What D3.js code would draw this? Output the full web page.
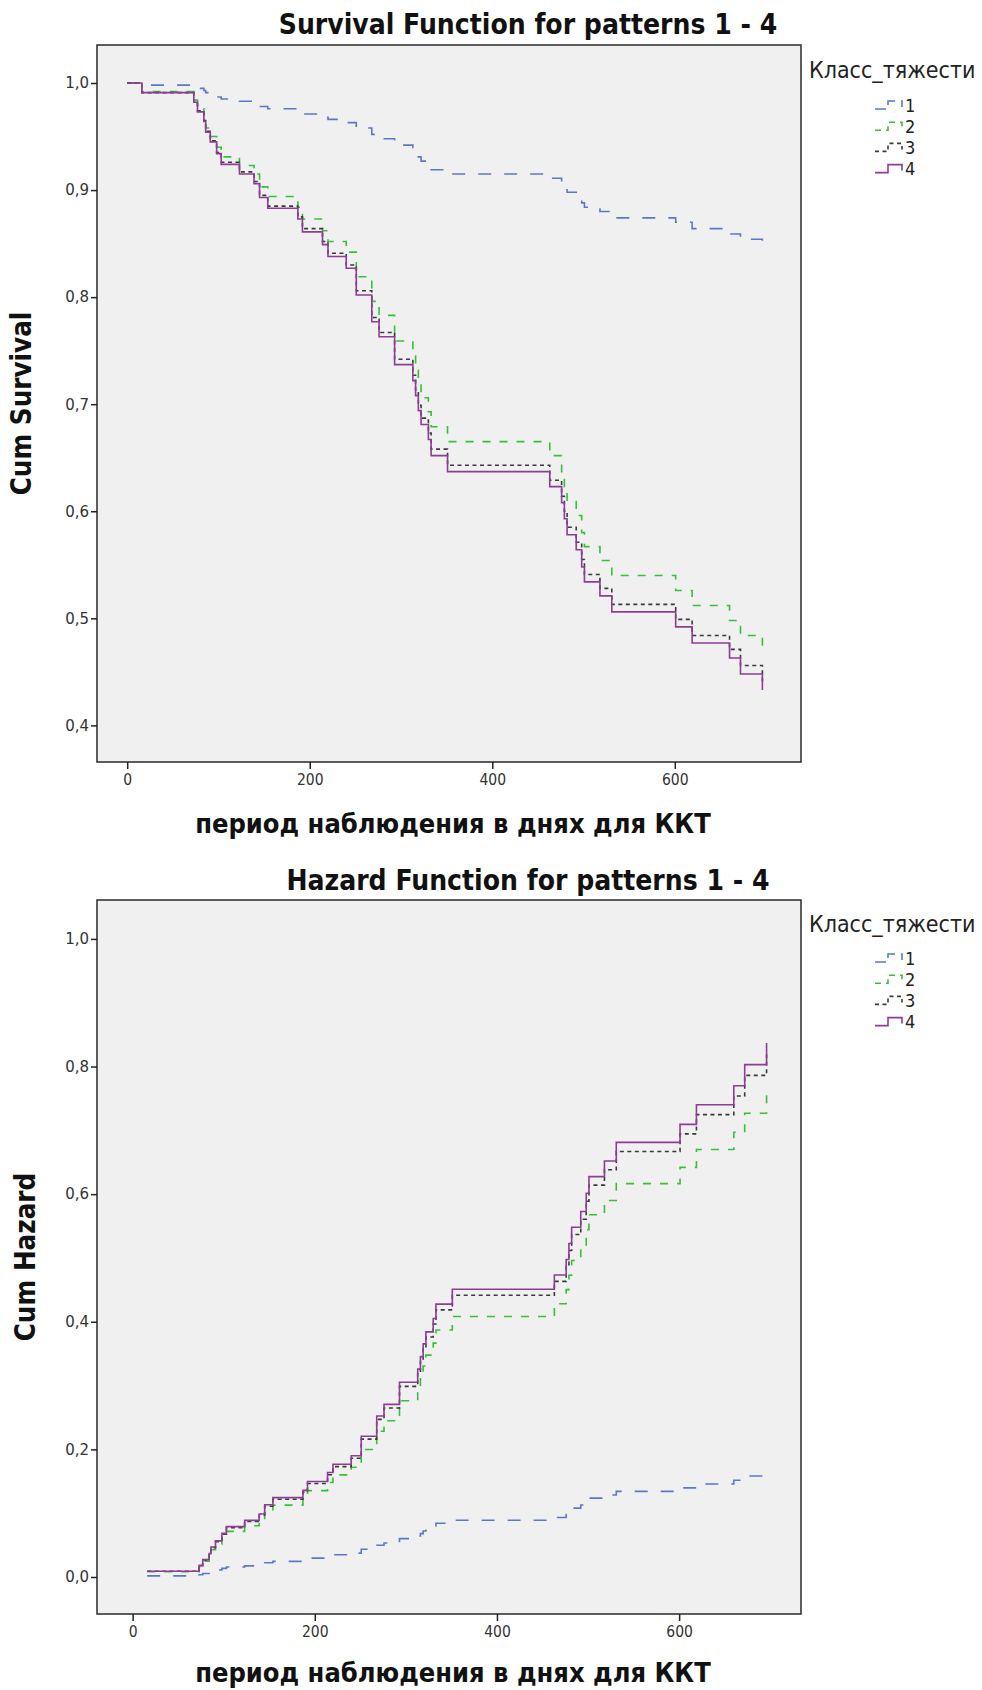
<!DOCTYPE html>
<html>
<head>
<meta charset="utf-8">
<title>Survival / Hazard</title>
<script src="https://cdn.jsdelivr.net/npm/d3@7/dist/d3.min.js"></script>
<style>
	body { margin: 0; background: #fff; }
	.chart-title { font-family: "DejaVu Sans Condensed", "DejaVu Sans", sans-serif; font-weight: bold; font-size: 28px; fill: #111; }
	.axis-title { font-family: "DejaVu Sans Condensed", "DejaVu Sans", sans-serif; font-weight: bold; font-size: 27px; fill: #111; }
	.y-title { font-size: 27.5px; }
	.y-axis text { font-family: "DejaVu Sans", sans-serif; font-size: 15px; fill: #333; }
	.x-axis text { font-family: "DejaVu Sans Condensed", "DejaVu Sans", sans-serif; font-size: 15.5px; fill: #333; }
	.axis path { display: none; }
	.axis line { stroke: #222; stroke-width: 1.5; }
	.legend-title { font-family: "DejaVu Sans Condensed", "DejaVu Sans", sans-serif; font-size: 23px; fill: #222; }
	.legend-label { font-family: "DejaVu Sans Condensed", "DejaVu Sans", sans-serif; font-size: 18px; fill: #222; }
</style>
</head>
<body>
<div id="chart"></div>
<script>

// event times (days) shared by all four patterns
const eventDays = [16, 73, 77, 84, 86, 91, 98, 103, 123, 139, 145, 154, 187, 192, 214, 220, 240, 251, 268, 276,
	293, 313, 316, 319, 322, 330, 333, 351, 463, 476, 479, 482, 492, 498, 501, 518, 531, 601, 619, 660, 672, 696];

// survival curves start at day 0 with 1,0
const survDays = [0].concat(eventDays);
const survival1 = [1.000, 0.998, 0.996, 0.995, 0.993, 0.991, 0.989, 0.987, 0.985, 0.983, 0.981, 0.978, 0.976, 0.974,
	0.971, 0.968, 0.966, 0.963, 0.958, 0.952, 0.948, 0.942, 0.938, 0.934, 0.931, 0.927, 0.923, 0.919, 0.915, 0.911,
	0.907, 0.902, 0.898, 0.893, 0.888, 0.884, 0.880, 0.874, 0.870, 0.864, 0.859, 0.854, 0.848];
const survival2 = [1.000, 0.992, 0.984, 0.976, 0.967, 0.958, 0.950, 0.940, 0.931, 0.923, 0.915, 0.903, 0.894, 0.884,
	0.873, 0.862, 0.852, 0.842, 0.819, 0.796, 0.783, 0.759, 0.745, 0.732, 0.719, 0.706, 0.693, 0.679, 0.665, 0.652,
	0.637, 0.623, 0.609, 0.596, 0.580, 0.567, 0.554, 0.540, 0.526, 0.512, 0.498, 0.484, 0.469];
const survival3 = [1.000, 0.991, 0.982, 0.974, 0.965, 0.955, 0.946, 0.935, 0.926, 0.917, 0.908, 0.895, 0.885, 0.875,
	0.864, 0.852, 0.841, 0.830, 0.806, 0.781, 0.767, 0.742, 0.727, 0.713, 0.699, 0.687, 0.673, 0.658, 0.643, 0.629,
	0.614, 0.600, 0.585, 0.571, 0.555, 0.541, 0.528, 0.513, 0.499, 0.484, 0.471, 0.456, 0.441];
const survival4 = [1.000, 0.991, 0.982, 0.973, 0.964, 0.954, 0.945, 0.934, 0.924, 0.915, 0.906, 0.893, 0.883, 0.873,
	0.861, 0.849, 0.838, 0.827, 0.802, 0.777, 0.763, 0.737, 0.722, 0.708, 0.694, 0.681, 0.667, 0.652, 0.637, 0.623,
	0.608, 0.593, 0.578, 0.564, 0.548, 0.534, 0.521, 0.506, 0.492, 0.477, 0.463, 0.448, 0.433];

// cumulative hazard, starting at the first event time
const hazard1 = [0.0018, 0.0036, 0.0054, 0.0072, 0.0093, 0.0111, 0.0135, 0.0156, 0.0175, 0.0195, 0.0223, 0.0245, 0.0268,
	0.0295, 0.0323, 0.0348, 0.0374, 0.0435, 0.0497, 0.0533, 0.0601, 0.0642, 0.0680, 0.0720, 0.0757, 0.0798, 0.0843,
	0.0889, 0.0932, 0.0980, 0.1029, 0.1080, 0.1128, 0.1185, 0.1236, 0.1284, 0.1342, 0.1397, 0.1458, 0.1517, 0.1582, 0.1649];
const hazard2 = [0.0082, 0.0164, 0.0248, 0.0332, 0.0426, 0.0512, 0.0618, 0.0715, 0.0804, 0.0893, 0.1024, 0.1126, 0.1229,
	0.1354, 0.1482, 0.1600, 0.1719, 0.1997, 0.2284, 0.2448, 0.2762, 0.2948, 0.3125, 0.3306, 0.3477, 0.3665, 0.3871,
	0.4082, 0.4283, 0.4503, 0.4729, 0.4961, 0.5183, 0.5443, 0.5678, 0.5901, 0.6165, 0.6419, 0.6699, 0.6969, 0.7267, 0.7575];
const hazard3 = [0.0089, 0.0178, 0.0268, 0.0359, 0.0461, 0.0554, 0.0669, 0.0774, 0.0870, 0.0967, 0.1108, 0.1218, 0.1330,
	0.1465, 0.1603, 0.1730, 0.1860, 0.2160, 0.2470, 0.2648, 0.2988, 0.3189, 0.3381, 0.3576, 0.3761, 0.3965, 0.4187,
	0.4415, 0.4633, 0.4871, 0.5116, 0.5367, 0.5607, 0.5889, 0.6142, 0.6383, 0.6669, 0.6944, 0.7247, 0.7539, 0.7861, 0.8194];
const hazard4 = [0.0090, 0.0182, 0.0274, 0.0367, 0.0471, 0.0566, 0.0683, 0.0790, 0.0888, 0.0987, 0.1132, 0.1244, 0.1358,
	0.1497, 0.1637, 0.1767, 0.1900, 0.2206, 0.2523, 0.2705, 0.3052, 0.3257, 0.3453, 0.3653, 0.3842, 0.4050, 0.4277,
	0.4510, 0.4732, 0.4976, 0.5226, 0.5482, 0.5727, 0.6015, 0.6274, 0.6520, 0.6812, 0.7093, 0.7402, 0.7700, 0.8030, 0.8370];

const groups = ["1", "2", "3", "4"];
const xTicks = [0, 200, 400, 600];
const survTicks = [0.4, 0.5, 0.6, 0.7, 0.8, 0.9, 1.0];
const hazTicks = [0.0, 0.2, 0.4, 0.6, 0.8, 1.0];

const lineStyles = [
	{color: "#5a78cb", dash: "13,13"},
	{color: "#34c234", dash: "8,9"},
	{color: "#3a3a3a", dash: "4,3.5"},
	{color: "#8d3d96", dash: null}
];


class StepPlot {

	constructor(svg, opts) {
		this.svg = svg;
		this.opts = opts;
		this.initVis();
	}

	initVis() {
		let vis = this;
		let o = vis.opts;

		vis.g = vis.svg.append("g")
			.attr("transform", `translate(${o.left}, ${o.top})`);

		vis.x = d3.scaleLinear().domain(o.xDomain).range([0, o.width]);
		vis.y = d3.scaleLinear().domain(o.yDomain).range([o.height, 0]);

		// grey plot area + frame
		vis.g.append("rect")
			.attr("width", o.width)
			.attr("height", o.height)
			.attr("fill", "#f0f0f0")
			.attr("stroke", "#2a2a2a")
			.attr("stroke-width", 1.5);

		let comma = d3.format(".1f");
		vis.yAxis = d3.axisLeft(vis.y)
			.tickValues(o.yTicks)
			.tickSize(6)
			.tickPadding(2)
			.tickFormat(d => comma(d).replace(".", ","));
		vis.xAxis = d3.axisBottom(vis.x)
			.tickValues(xTicks)
			.tickSize(7)
			.tickPadding(5)
			.tickFormat(d3.format("d"));

		vis.g.append("g")
			.attr("class", "y-axis axis")
			.call(vis.yAxis);
		vis.g.append("g")
			.attr("class", "x-axis axis")
			.attr("transform", `translate(0, ${o.height})`)
			.call(vis.xAxis);

		// titles
		vis.g.append("text")
			.attr("class", "chart-title")
			.attr("x", o.titleX)
			.attr("y", o.titleY)
			.attr("text-anchor", "middle")
			.text(o.title);
		vis.g.append("text")
			.attr("class", "axis-title y-title")
			.attr("transform", `translate(${o.yTitleX}, ${o.height / 2}) rotate(-90)`)
			.attr("text-anchor", "middle")
			.text(o.yTitle);
		vis.g.append("text")
			.attr("class", "axis-title")
			.attr("x", o.xTitleX)
			.attr("y", o.height + o.xTitleDy)
			.attr("text-anchor", "middle")
			.text("период наблюдения в днях для ККТ");

		vis.legendGroup = vis.g.append("g")
			.attr("class", "legend")
			.attr("transform", `translate(${o.width + 8}, 0)`);

		vis.updateVis();
	}

	updateVis() {
		let vis = this;
		let o = vis.opts;

		let line = d3.line()
			.x(d => vis.x(d[0]))
			.y(d => vis.y(d[1]))
			.curve(d3.curveStepAfter);

		o.series.forEach((vals, i) => {
			let pts = vals.map((v, j) => [o.days[j], v]);
			vis.g.append("path")
				.datum(pts)
				.attr("class", "curve curve-" + groups[i])
				.attr("fill", "none")
				.attr("stroke", lineStyles[i].color)
				.attr("stroke-width", 1.6)
				.attr("stroke-dasharray", lineStyles[i].dash)
				.attr("d", line);
		});

		// legend
		vis.legendGroup.append("text")
			.attr("class", "legend-title")
			.attr("x", 0)
			.attr("y", o.legendY)
			.text("Класс_тяжести");

		let items = vis.legendGroup.selectAll(".legend-item")
			.data(groups)
			.enter().append("g")
			.attr("class", "legend-item")
			.attr("transform", (d, i) => `translate(66, ${o.legendY + o.legendGap + i * 21.2})`);
		items.append("path")
			.attr("d", "M0,4H13V-4H27V2")
			.attr("fill", "none")
			.attr("stroke", (d, i) => lineStyles[i].color)
			.attr("stroke-width", 1.6)
			.attr("stroke-dasharray", (d, i) => i === 0 ? "11,6" : (i === 1 ? "6,5" : lineStyles[i].dash));
		items.append("text")
			.attr("class", "legend-label")
			.attr("x", 30)
			.attr("y", 6.5)
			.text(d => d);
	}
}


let svg = d3.select("#chart").append("svg")
	.attr("width", 982)
	.attr("height", 1690);

new StepPlot(svg, {
	left: 97, top: 45, width: 704, height: 717,
	xDomain: [-33.1, 738.3], yDomain: [0.3658, 1.0355],
	yTicks: survTicks,
	days: survDays,
	series: [survival1, survival2, survival3, survival4],
	title: "Survival Function for patterns 1 - 4",
	titleX: 431, titleY: -11,
	yTitleX: -66, xTitleX: 356, xTitleDy: 71,
	yTitle: "Cum Survival",
	legendY: 33, legendGap: 27
});

new StepPlot(svg, {
	left: 97, top: 900, width: 704, height: 714,
	xDomain: [-39.1, 733.8], yDomain: [-0.058, 1.061],
	yTicks: hazTicks,
	days: eventDays,
	series: [hazard1, hazard2, hazard3, hazard4],
	title: "Hazard Function for patterns 1 - 4",
	titleX: 431, titleY: -10,
	yTitleX: -62, xTitleX: 356, xTitleDy: 68,
	yTitle: "Cum Hazard",
	legendY: 32, legendGap: 26
});

</script>
</body>
</html>
